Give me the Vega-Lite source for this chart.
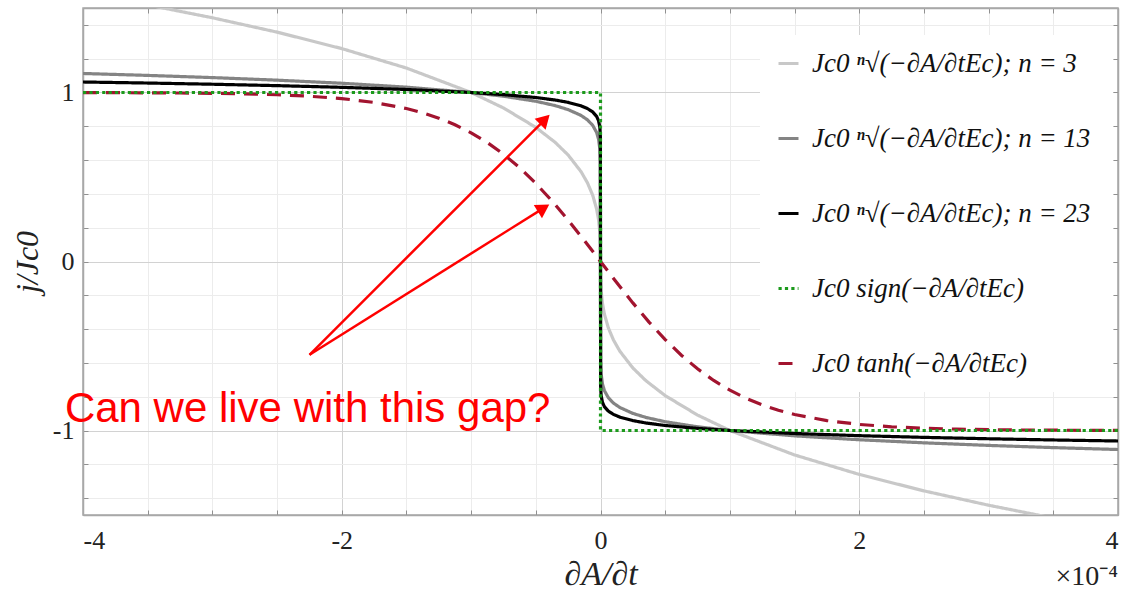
{
  "$schema": "https://vega.github.io/schema/vega-lite/v6.json",
  "width": 1035,
  "height": 507,
  "autosize": "none",
  "padding": {"left": 83, "top": 8, "right": 5, "bottom": 80},
  "background": "white",
  "config": {
    "view": {"stroke": "#a8a8a8", "strokeWidth": 1.5},
    "legend": {
      "orient": "none",
      "legendX": 677,
      "legendY": 27,
      "fillColor": "white",
      "padding": 15,
      "symbolType": "stroke",
      "symbolSize": 400,
      "symbolStrokeWidth": 3,
      "labelFont": "Liberation Serif",
      "labelFontStyle": "italic",
      "labelFontSize": 27,
      "labelColor": "#111111",
      "labelLimit": 400,
      "labelOffset": 10,
      "rowPadding": 47,
      "title": null
    }
  },
  "datasets": {
    "curves": [
      {"s": "n3", "x": -4, "y": 1.5874}, {"s": "n3", "x": -3.5, "y": 1.5183}, {"s": "n3", "x": -3, "y": 1.4422}, {"s": "n3", "x": -2.5, "y": 1.3572}, {"s": "n3", "x": -2, "y": 1.2599}, {"s": "n3", "x": -1.5, "y": 1.1447}, {"s": "n3", "x": -1, "y": 1}, {"s": "n3", "x": -0.75, "y": 0.9086}, {"s": "n3", "x": -0.5, "y": 0.7937}, {"s": "n3", "x": -0.35, "y": 0.7047}, {"s": "n3", "x": -0.25, "y": 0.63}, {"s": "n3", "x": -0.15, "y": 0.5313}, {"s": "n3", "x": -0.1, "y": 0.4642}, {"s": "n3", "x": -0.06, "y": 0.3915}, {"s": "n3", "x": -0.03, "y": 0.3107}, {"s": "n3", "x": -0.015, "y": 0.2466}, {"s": "n3", "x": -0.005, "y": 0.171}, {"s": "n3", "x": -0.001, "y": 0.1}, {"s": "n3", "x": 0, "y": 0}, {"s": "n3", "x": 0.001, "y": -0.1}, {"s": "n3", "x": 0.005, "y": -0.171}, {"s": "n3", "x": 0.015, "y": -0.2466}, {"s": "n3", "x": 0.03, "y": -0.3107}, {"s": "n3", "x": 0.06, "y": -0.3915}, {"s": "n3", "x": 0.1, "y": -0.4642}, {"s": "n3", "x": 0.15, "y": -0.5313}, {"s": "n3", "x": 0.25, "y": -0.63}, {"s": "n3", "x": 0.35, "y": -0.7047}, {"s": "n3", "x": 0.5, "y": -0.7937}, {"s": "n3", "x": 0.75, "y": -0.9086}, {"s": "n3", "x": 1, "y": -1}, {"s": "n3", "x": 1.5, "y": -1.1447}, {"s": "n3", "x": 2, "y": -1.2599}, {"s": "n3", "x": 2.5, "y": -1.3572}, {"s": "n3", "x": 3, "y": -1.4422}, {"s": "n3", "x": 3.5, "y": -1.5183}, {"s": "n3", "x": 4, "y": -1.5874},

      {"s": "n13", "x": -4, "y": 1.1125}, {"s": "n13", "x": -3.5, "y": 1.1012}, {"s": "n13", "x": -3, "y": 1.0882}, {"s": "n13", "x": -2.5, "y": 1.073}, {"s": "n13", "x": -2, "y": 1.0548}, {"s": "n13", "x": -1.5, "y": 1.0317}, {"s": "n13", "x": -1, "y": 1}, {"s": "n13", "x": -0.75, "y": 0.9781}, {"s": "n13", "x": -0.5, "y": 0.9481}, {"s": "n13", "x": -0.35, "y": 0.9224}, {"s": "n13", "x": -0.25, "y": 0.8988}, {"s": "n13", "x": -0.15, "y": 0.8642}, {"s": "n13", "x": -0.1, "y": 0.8377}, {"s": "n13", "x": -0.06, "y": 0.8054}, {"s": "n13", "x": -0.03, "y": 0.7636}, {"s": "n13", "x": -0.015, "y": 0.7239}, {"s": "n13", "x": -0.005, "y": 0.6653}, {"s": "n13", "x": -0.001, "y": 0.5878}, {"s": "n13", "x": 0, "y": 0}, {"s": "n13", "x": 0.001, "y": -0.5878}, {"s": "n13", "x": 0.005, "y": -0.6653}, {"s": "n13", "x": 0.015, "y": -0.7239}, {"s": "n13", "x": 0.03, "y": -0.7636}, {"s": "n13", "x": 0.06, "y": -0.8054}, {"s": "n13", "x": 0.1, "y": -0.8377}, {"s": "n13", "x": 0.15, "y": -0.8642}, {"s": "n13", "x": 0.25, "y": -0.8988}, {"s": "n13", "x": 0.35, "y": -0.9224}, {"s": "n13", "x": 0.5, "y": -0.9481}, {"s": "n13", "x": 0.75, "y": -0.9781}, {"s": "n13", "x": 1, "y": -1}, {"s": "n13", "x": 1.5, "y": -1.0317}, {"s": "n13", "x": 2, "y": -1.0548}, {"s": "n13", "x": 2.5, "y": -1.073}, {"s": "n13", "x": 3, "y": -1.0882}, {"s": "n13", "x": 3.5, "y": -1.1012}, {"s": "n13", "x": 4, "y": -1.1125},

      {"s": "n23", "x": -4, "y": 1.0621}, {"s": "n23", "x": -3.5, "y": 1.056}, {"s": "n23", "x": -3, "y": 1.0489}, {"s": "n23", "x": -2.5, "y": 1.0406}, {"s": "n23", "x": -2, "y": 1.0306}, {"s": "n23", "x": -1.5, "y": 1.0178}, {"s": "n23", "x": -1, "y": 1}, {"s": "n23", "x": -0.75, "y": 0.9876}, {"s": "n23", "x": -0.5, "y": 0.9703}, {"s": "n23", "x": -0.35, "y": 0.9554}, {"s": "n23", "x": -0.25, "y": 0.9415}, {"s": "n23", "x": -0.15, "y": 0.9208}, {"s": "n23", "x": -0.1, "y": 0.9047}, {"s": "n23", "x": -0.06, "y": 0.8849}, {"s": "n23", "x": -0.03, "y": 0.8586}, {"s": "n23", "x": -0.015, "y": 0.8331}, {"s": "n23", "x": -0.005, "y": 0.7943}, {"s": "n23", "x": -0.001, "y": 0.7406}, {"s": "n23", "x": 0, "y": 0}, {"s": "n23", "x": 0.001, "y": -0.7406}, {"s": "n23", "x": 0.005, "y": -0.7943}, {"s": "n23", "x": 0.015, "y": -0.8331}, {"s": "n23", "x": 0.03, "y": -0.8586}, {"s": "n23", "x": 0.06, "y": -0.8849}, {"s": "n23", "x": 0.1, "y": -0.9047}, {"s": "n23", "x": 0.15, "y": -0.9208}, {"s": "n23", "x": 0.25, "y": -0.9415}, {"s": "n23", "x": 0.35, "y": -0.9554}, {"s": "n23", "x": 0.5, "y": -0.9703}, {"s": "n23", "x": 0.75, "y": -0.9876}, {"s": "n23", "x": 1, "y": -1}, {"s": "n23", "x": 1.5, "y": -1.0178}, {"s": "n23", "x": 2, "y": -1.0306}, {"s": "n23", "x": 2.5, "y": -1.0406}, {"s": "n23", "x": 3, "y": -1.0489}, {"s": "n23", "x": 3.5, "y": -1.056}, {"s": "n23", "x": 4, "y": -1.0621},

      {"s": "tanh", "x": -4, "y": 0.9993}, {"s": "tanh", "x": -3.75, "y": 0.9989}, {"s": "tanh", "x": -3.5, "y": 0.9982}, {"s": "tanh", "x": -3.25, "y": 0.997}, {"s": "tanh", "x": -3, "y": 0.9951}, {"s": "tanh", "x": -2.75, "y": 0.9919}, {"s": "tanh", "x": -2.5, "y": 0.9866}, {"s": "tanh", "x": -2.25, "y": 0.978}, {"s": "tanh", "x": -2, "y": 0.964}, {"s": "tanh", "x": -1.75, "y": 0.9414}, {"s": "tanh", "x": -1.5, "y": 0.9051}, {"s": "tanh", "x": -1.375, "y": 0.8802}, {"s": "tanh", "x": -1.25, "y": 0.8483}, {"s": "tanh", "x": -1.125, "y": 0.8095}, {"s": "tanh", "x": -1, "y": 0.7616}, {"s": "tanh", "x": -0.875, "y": 0.704}, {"s": "tanh", "x": -0.75, "y": 0.6351}, {"s": "tanh", "x": -0.625, "y": 0.5546}, {"s": "tanh", "x": -0.5, "y": 0.4621}, {"s": "tanh", "x": -0.375, "y": 0.3584}, {"s": "tanh", "x": -0.25, "y": 0.2449}, {"s": "tanh", "x": -0.125, "y": 0.1244}, {"s": "tanh", "x": 0, "y": 0}, {"s": "tanh", "x": 0.125, "y": -0.1244}, {"s": "tanh", "x": 0.25, "y": -0.2449}, {"s": "tanh", "x": 0.375, "y": -0.3584}, {"s": "tanh", "x": 0.5, "y": -0.4621}, {"s": "tanh", "x": 0.625, "y": -0.5546}, {"s": "tanh", "x": 0.75, "y": -0.6351}, {"s": "tanh", "x": 0.875, "y": -0.704}, {"s": "tanh", "x": 1, "y": -0.7616}, {"s": "tanh", "x": 1.125, "y": -0.8095}, {"s": "tanh", "x": 1.25, "y": -0.8483}, {"s": "tanh", "x": 1.375, "y": -0.8802}, {"s": "tanh", "x": 1.5, "y": -0.9051}, {"s": "tanh", "x": 1.75, "y": -0.9414}, {"s": "tanh", "x": 2, "y": -0.964}, {"s": "tanh", "x": 2.25, "y": -0.978}, {"s": "tanh", "x": 2.5, "y": -0.9866}, {"s": "tanh", "x": 2.75, "y": -0.9919}, {"s": "tanh", "x": 3, "y": -0.9951}, {"s": "tanh", "x": 3.25, "y": -0.997}, {"s": "tanh", "x": 3.5, "y": -0.9982}, {"s": "tanh", "x": 3.75, "y": -0.9989}, {"s": "tanh", "x": 4, "y": -0.9993},

      {"s": "sign", "x": -4, "y": 1}, {"s": "sign", "x": 0, "y": 1}, {"s": "sign", "x": 0, "y": -1}, {"s": "sign", "x": 4, "y": -1}
    ],
    "arrows": [
      {"id": 1, "x0": -2.249, "y0": -0.552, "x1": -0.381, "y1": 0.878, "hx": -0.43, "hy": 0.84},
      {"id": 2, "x0": -2.249, "y0": -0.552, "x1": -0.381, "y1": 0.344, "hx": -0.44, "hy": 0.316}
    ],
    "note": [
      {"text": "Can we live with this gap?", "x": -4.14, "y": -0.95}
    ],
    "scale": [
      {"text": "×10⁻⁴", "x": 4, "y": -1.5}
    ]
  },
  "layer": [
    {
      "data": {"name": "curves"},
      "mark": {"type": "line", "clip": true, "strokeWidth": 3.2},
      "encoding": {
        "x": {
          "field": "x", "type": "quantitative",
          "scale": {"domain": [-4, 4], "nice": false, "zero": false},
          "axis": {
            "orient": "bottom",
            "values": [-4, -3.5, -3, -2.5, -2, -1.5, -1, -0.5, 0, 0.5, 1, 1.5, 2, 2.5, 3, 3.5, 4],
            "grid": true,
            "gridColor": {"condition": {"test": "datum.value % 2 === 0", "value": "#d2d2d2"}, "value": "#ececec"},
            "gridWidth": 1,
            "tickSize": -5,
            "tickColor": "#909090",
            "domainColor": "#a8a8a8",
            "domainWidth": 1.5,
            "labelExpr": "datum.value % 2 === 0 ? '' + datum.value : ''",
            "labelFont": "Liberation Serif",
            "labelFontSize": 26,
            "labelColor": "#222222",
            "labelPadding": 17,
            "title": "∂A/∂t",
            "titleFont": "Liberation Serif",
            "titleFontStyle": "italic",
            "titleFontWeight": "normal",
            "titleFontSize": 34,
            "titleColor": "#222222",
            "titlePadding": 4
          }
        },
        "y": {
          "field": "y", "type": "quantitative",
          "scale": {"domain": [-1.5, 1.5], "nice": false, "zero": false},
          "axis": {
            "orient": "left",
            "values": [-1.4, -1.2, -1, -0.8, -0.6, -0.4, -0.2, 0, 0.2, 0.4, 0.6, 0.8, 1, 1.2, 1.4],
            "grid": true,
            "gridColor": {"condition": {"test": "abs(datum.value % 1) < 0.001", "value": "#d2d2d2"}, "value": "#ececec"},
            "gridWidth": 1,
            "tickSize": -5,
            "tickColor": "#909090",
            "domainColor": "#a8a8a8",
            "domainWidth": 1.5,
            "labelExpr": "abs(datum.value % 1) < 0.001 ? '' + datum.value : ''",
            "labelFont": "Liberation Serif",
            "labelFontSize": 26,
            "labelColor": "#222222",
            "labelPadding": 14,
            "title": "j/Jc0",
            "titleFont": "Liberation Serif",
            "titleFontStyle": "italic",
            "titleFontWeight": "normal",
            "titleFontSize": 32,
            "titleColor": "#222222",
            "titlePadding": 8
          }
        },
        "color": {
          "field": "s", "type": "nominal",
          "scale": {"domain": ["n3", "n13", "n23", "sign", "tanh"], "range": ["#c8c8c8", "#848484", "#000000", "#1c9a1c", "#a2142f"]},
          "legend": {"labelExpr": "datum.value == 'n3' ? 'Jc0 ⁿ√(−∂A/∂tEc);  n = 3' : datum.value == 'n13' ? 'Jc0 ⁿ√(−∂A/∂tEc);  n = 13' : datum.value == 'n23' ? 'Jc0 ⁿ√(−∂A/∂tEc);  n = 23' : datum.value == 'sign' ? 'Jc0 sign(−∂A/∂tEc)' : 'Jc0 tanh(−∂A/∂tEc)'"}
        },
        "strokeDash": {
          "field": "s", "type": "nominal",
          "scale": {"domain": ["n3", "n13", "n23", "sign", "tanh"], "range": [[1, 0], [1, 0], [1, 0], [3.2, 3.2], [14, 9]]},
          "legend": {"labelExpr": "datum.value == 'n3' ? 'Jc0 ⁿ√(−∂A/∂tEc);  n = 3' : datum.value == 'n13' ? 'Jc0 ⁿ√(−∂A/∂tEc);  n = 13' : datum.value == 'n23' ? 'Jc0 ⁿ√(−∂A/∂tEc);  n = 23' : datum.value == 'sign' ? 'Jc0 sign(−∂A/∂tEc)' : 'Jc0 tanh(−∂A/∂tEc)'"}
        },
        "order": {"value": null}
      }
    },
    {
      "data": {"name": "note"},
      "mark": {"type": "point", "opacity": 0},
      "encoding": {
        "x": {
          "field": "x", "type": "quantitative",
          "axis": {
            "orient": "top",
            "values": [-4, -3.5, -3, -2.5, -2, -1.5, -1, -0.5, 0, 0.5, 1, 1.5, 2, 2.5, 3, 3.5, 4],
            "grid": false, "labels": false, "title": null,
            "tickSize": -5, "tickColor": "#909090",
            "domainColor": "#a8a8a8", "domainWidth": 1.5
          }
        },
        "y": {
          "field": "y", "type": "quantitative",
          "axis": {
            "orient": "right",
            "values": [-1.4, -1.2, -1, -0.8, -0.6, -0.4, -0.2, 0, 0.2, 0.4, 0.6, 0.8, 1, 1.2, 1.4],
            "grid": false, "labels": false, "title": null,
            "tickSize": -5, "tickColor": "#909090",
            "domainColor": "#a8a8a8", "domainWidth": 1.5
          }
        }
      }
    },
    {
      "data": {"name": "arrows"},
      "mark": {"type": "rule", "color": "#ff0000", "strokeWidth": 2.5},
      "encoding": {
        "x": {"field": "x0", "type": "quantitative", "axis": null},
        "y": {"field": "y0", "type": "quantitative", "axis": null},
        "x2": {"field": "hx"},
        "y2": {"field": "hy"}
      }
    },
    {
      "data": {"name": "arrows"},
      "transform": [{"filter": "datum.id === 1"}],
      "mark": {"type": "point", "shape": "triangle-up", "filled": true, "color": "#ff0000", "opacity": 1, "size": 240, "angle": 45},
      "encoding": {
        "x": {"field": "hx", "type": "quantitative", "axis": null},
        "y": {"field": "hy", "type": "quantitative", "axis": null}
      }
    },
    {
      "data": {"name": "arrows"},
      "transform": [{"filter": "datum.id === 2"}],
      "mark": {"type": "point", "shape": "triangle-up", "filled": true, "color": "#ff0000", "opacity": 1, "size": 240, "angle": 58},
      "encoding": {
        "x": {"field": "hx", "type": "quantitative", "axis": null},
        "y": {"field": "hy", "type": "quantitative", "axis": null}
      }
    },
    {
      "data": {"name": "note"},
      "mark": {"type": "text", "color": "#ff0000", "font": "Liberation Sans", "fontSize": 42, "align": "left", "baseline": "alphabetic"},
      "encoding": {
        "x": {"field": "x", "type": "quantitative", "axis": null},
        "y": {"field": "y", "type": "quantitative", "axis": null},
        "text": {"field": "text"}
      }
    },
    {
      "data": {"name": "scale"},
      "mark": {"type": "text", "color": "#222222", "font": "Liberation Serif", "fontSize": 28, "align": "right", "baseline": "middle", "dy": 62},
      "encoding": {
        "x": {"field": "x", "type": "quantitative", "axis": null},
        "y": {"field": "y", "type": "quantitative", "axis": null},
        "text": {"field": "text"}
      }
    }
  ],
  "resolve": {"axis": {"x": "independent", "y": "independent"}}
}
